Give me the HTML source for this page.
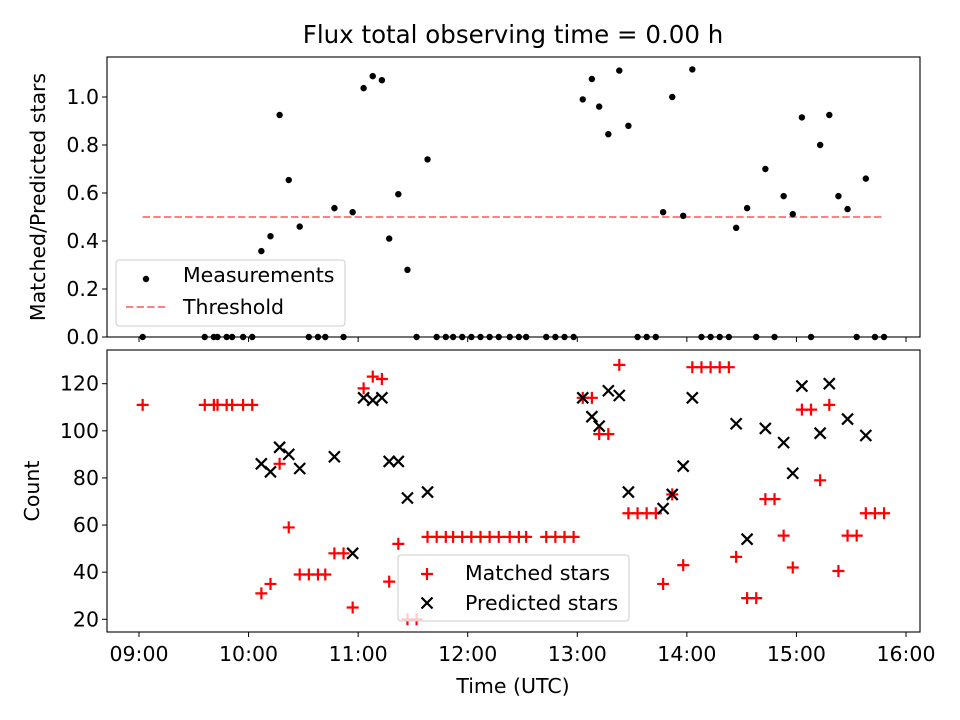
<!DOCTYPE html>
<html><head><meta charset="utf-8"><style>
body{margin:0;background:#fff}
svg{display:block;font-family:"DejaVu Sans","Liberation Sans",sans-serif}
</style></head><body>
<svg id="fig" width="960" height="720" viewBox="0 0 960 720" xmlns="http://www.w3.org/2000/svg">
<rect width="960" height="720" fill="#fff"/>
<text x="513" y="43" font-size="24.5" text-anchor="middle">Flux total observing time = 0.00 h</text>
<g id="topPanel"></g>
<g id="botPanel"></g>
<text transform="translate(45,197) rotate(-90)" font-size="20.5" text-anchor="middle">Matched/Predicted stars</text>
<text transform="translate(39,491) rotate(-90)" font-size="20.5" text-anchor="middle">Count</text>
<text x="513" y="693" font-size="20.5" text-anchor="middle">Time (UTC)</text>
</svg>
<script>
const mTimes=["09:02","09:36","09:41","09:43","09:48","09:51","09:57","10:02","10:07","10:12","10:17","10:22","10:28","10:33","10:38","10:42","10:47","10:52","10:57","11:03","11:08","11:13","11:17","11:22","11:27","11:32","11:38","11:43","11:48","11:52","11:57","12:02","12:07","12:12","12:17","12:23","12:28","12:32","12:43","12:48","12:53","12:58","13:03","13:08","13:12","13:17","13:23","13:28","13:33","13:38","13:43","13:47","13:52","13:58","14:03","14:08","14:13","14:18","14:23","14:27","14:33","14:38","14:43","14:48","14:53","14:58","15:03","15:08","15:13","15:18","15:23","15:28","15:33","15:38","15:43","15:48"];
const ratioVals=[0,0,0,0,0,0,0,0,0.358,0.42,0.925,0.654,0.46,0,0,0,0.537,0,0.52,1.037,1.087,1.07,0.41,0.595,0.28,0,0.74,0,0,0,0,0,0,0,0,0,0,0,0,0,0,0,0.99,1.075,0.96,0.845,1.11,0.88,0,0,0,0.52,1.0,0.505,1.115,0,0,0,0,0.455,0.537,0,0.70,0,0.587,0.512,0.915,0,0.80,0.925,0.587,0.533,0,0.66,0,0];
const matchedVals=[111,111,111,111,111,111,111,111,31,35,86,59,39,39,39,39,48,48,25,118,123,122,36,52,20,20,55,55,55,55,55,55,55,55,55,55,55,55,55,55,55,55,114,114,98.6,98.6,128,65,65,65,65,35,73,43,127,127,127,127,127,46.5,29,29,71,71,55.5,42,109,109,79,111,40.5,55.5,55.5,65,65,65];
const predTimes=["10:07","10:12","10:17","10:22","10:28","10:47","10:57","11:03","11:08","11:13","11:17","11:22","11:27","11:38","13:03","13:08","13:12","13:17","13:23","13:28","13:47","13:52","13:58","14:03","14:27","14:33","14:43","14:53","14:58","15:03","15:13","15:18","15:28","15:38"];
const predVals=[86,82.6,93,90,84,89,48,114,113,114,87,87,71.5,74,114,106,102,117,115,74,67,73,85,114,103,54,101,95,82,119,99,120,105,98];
const threshold=0.5;
const xTicks=["09:00","10:00","11:00","12:00","13:00","14:00","15:00","16:00"];
const ratioTicks=[0,0.2,0.4,0.6,0.8,1.0];
const countTicks=[20,40,60,80,100,120];

const NS="http://www.w3.org/2000/svg";
const L=107,R=920,FS=20.5;
function hrs(t){const p=t.split(":");return +p[0]+(+p[1])/60;}
function X(t){return 139+(hrs(t)-9)*109.57;}
function Y1(v){return 337-v*240;}
function Y2(v){return 383.7+(120-v)*2.356;}
function mk(tag,at,par){const e=document.createElementNS(NS,tag);for(const k in at)e.setAttribute(k,at[k]);par.appendChild(e);return e;}
const topG=document.getElementById('topPanel'),botG=document.getElementById('botPanel');

function axes(g,t,b,yt,yf,fmt,labels){
  xTicks.forEach(tk=>{const x=X(tk);
    const l=mk('line',{x1:x,x2:x,y1:b,y2:b+5,stroke:'#000','stroke-width':1},g);
    
    
    if(labels){const tx=mk('text',{x:x,y:b+29,'font-size':FS,'text-anchor':'middle'},g);tx.textContent=tk;
      
      }
  });
  yt.forEach(v=>{const y=yf(v);
    const l=mk('line',{x1:L-5,x2:L,y1:y,y2:y,stroke:'#000','stroke-width':1},g);
    
    
    const tx=mk('text',{x:L-8,y:y+7,'font-size':FS,'text-anchor':'end'},g);tx.textContent=fmt(v);
    
    
  });
}
function frame(g,t,b){const r=mk('rect',{x:L,y:t,width:R-L,height:b-t,fill:'none',stroke:'#000','stroke-width':1.1},g);
  
  }

axes(topG,57,337,ratioTicks,Y1,v=>v.toFixed(1),false);
const th=mk('line',{x1:X(mTimes[0]),x2:X(mTimes[mTimes.length-1]),y1:Y1(threshold),y2:Y1(threshold),stroke:'#ff8080','stroke-width':2,'stroke-dasharray':'7.4,3.2'},topG);


mTimes.forEach((t,i)=>{const c=mk('circle',{cx:X(t),cy:Y1(ratioVals[i]),r:3.2,fill:'#000'},topG);
  
  });
frame(topG,57,337);
const lg1=mk('g',{},topG);


mk('rect',{x:116,y:260,width:229,height:66,rx:3,fill:'#fff','fill-opacity':0.8,stroke:'#ccc'},lg1);
mk('circle',{cx:146,cy:279,r:3.2,fill:'#000'},lg1);
let t1=mk('text',{x:183,y:282,'font-size':FS},lg1);t1.textContent='Measurements';
mk('line',{x1:126,x2:166,y1:307,y2:307,stroke:'#ff8080','stroke-width':2,'stroke-dasharray':'7.4,3.2'},lg1);
let t2=mk('text',{x:183,y:314,'font-size':FS},lg1);t2.textContent='Threshold';

axes(botG,350,632,countTicks,Y2,v=>String(v),true);
function plus(g,x,y){return mk('path',{d:`M${x-6},${y}H${x+6}M${x},${y-6}V${y+6}`,stroke:'#f00','stroke-width':2.2},g);}
function cross(g,x,y){return mk('path',{d:`M${x-5.5},${y-5.5}L${x+5.5},${y+5.5}M${x-5.5},${y+5.5}L${x+5.5},${y-5.5}`,stroke:'#000','stroke-width':2.2},g);}
mTimes.forEach((t,i)=>{const p=plus(botG,X(t),Y2(matchedVals[i]));
  
  });
predTimes.forEach((t,i)=>{const p=cross(botG,X(t),Y2(predVals[i]));
  
  });
frame(botG,350,632);
const lg2=mk('g',{},botG);


mk('rect',{x:398,y:555,width:231,height:66,rx:3,fill:'#fff','fill-opacity':0.8,stroke:'#ccc'},lg2);
plus(lg2,427,574);
let t3=mk('text',{x:465,y:580,'font-size':FS},lg2);t3.textContent='Matched stars';
cross(lg2,427,603);
let t4=mk('text',{x:465,y:610,'font-size':FS},lg2);t4.textContent='Predicted stars';
</script>
</body></html>
